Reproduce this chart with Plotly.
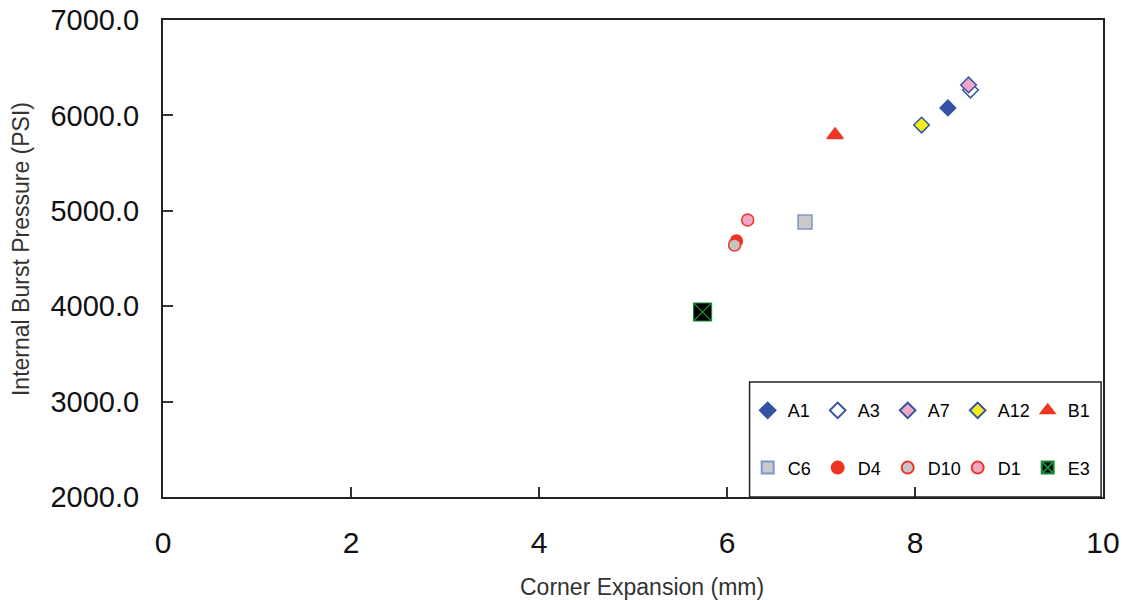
import plotly.graph_objects as go

# Data
names = ["A1", "A3", "A7", "A12", "B1", "C6", "D4", "D10", "D1", "E3"]
expansion = [8.35, 8.59, 8.57, 8.07, 7.15, 6.83, 6.10, 6.08, 6.22, 5.74]
pressure = [6078, 6266, 6319, 5899, 5795, 4883, 4683, 4642, 4904, 3939]

symbols = ["diamond", "diamond", "diamond", "diamond", "triangle-up",
           "square", "circle", "circle", "circle", "square-x"]
fills = ["#3553A4", "#FFFFFF", "#F2A7C9", "#F4EC1C", "#EE3524",
         "#C9C9C9", "#EE3524", "#C4C4C4", "#F2A7C9", "#000000"]
lines = ["#3553A4", "#3553A4", "#3553A4", "#3553A4", "#EE3524",
         "#7F96CB", "#EE3524", "#EE3524", "#EE3524", "#1A8A3A"]
sizes = [12, 12, 12, 12, 14, 14, 12, 12, 12, 18]

x_ticks = [0, 2, 4, 6, 8, 10]
y_ticks = [2000, 3000, 4000, 5000, 6000, 7000]

font = "Liberation Sans, Arial"

fig = go.Figure()
for i, n in enumerate(names):
    fig.add_trace(go.Scatter(
        x=[expansion[i]], y=[pressure[i]], mode="markers", name=n,
        marker=dict(symbol=symbols[i], color=fills[i], size=sizes[i],
                    line=dict(color=lines[i], width=1.5 if i != 9 else 1.2)),
        legend="legend" if i < 5 else "legend2",
    ))

legend_common = dict(
    orientation="h", xref="paper", yref="paper", x=0.622, xanchor="left",
    yanchor="middle", entrywidth=25, entrywidthmode="pixels",
    font=dict(family=font, size=18, color="#000000"),
    bgcolor="rgba(0,0,0,0)", borderwidth=0, itemsizing="constant",
)

fig.update_layout(
    width=1125, height=600,
    margin=dict(l=163, r=22, t=20, b=103, autoexpand=False),
    paper_bgcolor="white", plot_bgcolor="white",
    showlegend=True,
    legend=dict(y=0.181, **legend_common),
    legend2=dict(y=0.061, **legend_common),
    xaxis=dict(
        range=[0, 10], tickvals=x_ticks, ticktext=[str(v) for v in x_ticks],
        ticks="inside", ticklen=10, tickcolor="#333333", tickwidth=1.5,
        showline=True, linecolor="#222222", linewidth=2, mirror=True,
        showgrid=False, zeroline=False, automargin=False,
        tickfont=dict(family=font, size=30, color="#111111"),
        ticklabelstandoff=18, ticklabeloverflow="allow",
    ),
    yaxis=dict(
        range=[2000, 7000], tickvals=y_ticks, ticktext=[f"{v:.1f}" for v in y_ticks],
        ticks="inside", ticklen=10, tickcolor="#333333", tickwidth=1.5,
        showline=True, linecolor="#222222", linewidth=2, mirror=True,
        showgrid=False, zeroline=False, automargin=False,
        tickfont=dict(family=font, size=29, color="#111111"),
        ticklabelstandoff=16, ticklabeloverflow="allow",
    ),
    shapes=[dict(type="rect", xref="paper", yref="paper", x0=0.624, x1=0.998,
                 y0=0.0, y1=0.241, line=dict(color="#222222", width=1.5),
                 fillcolor="rgba(0,0,0,0)")],
    annotations=[
        dict(text="Corner Expansion (mm)", xref="paper", yref="paper",
             x=0.51, y=-0.189, xanchor="center", yanchor="middle", showarrow=False,
             font=dict(family=font, size=23, color="#333333")),
        dict(text="Internal Burst Pressure (PSI)", xref="paper", yref="paper",
             x=-0.151, y=0.52, xanchor="center", yanchor="middle", showarrow=False,
             textangle=-90, font=dict(family=font, size=23, color="#333333")),
    ],
)

fig.write_html(
    "out.html",
    config={"displayModeBar": False},
    post_script="document.body.style.margin='0';document.body.style.overflow='hidden';",
)
